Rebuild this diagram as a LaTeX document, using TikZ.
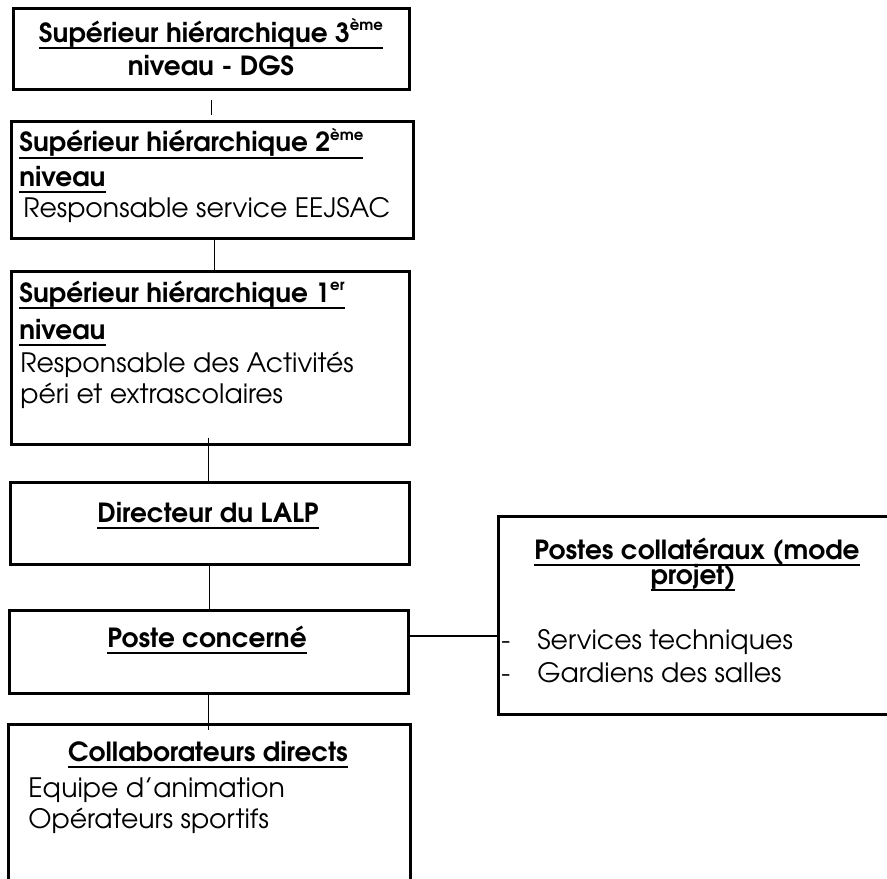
\documentclass[tikz,border=0pt]{standalone}
\usepackage{fontspec}
\setmainfont{texgyreadventor}[Extension=.otf,UprightFont=*-regular,BoldFont=*-bold]
\newcommand{\ulin}[1]{\setbox0\hbox{#1}\rlap{\rule[-0.27em]{\wd0}{0.09em}}\box0}
\newcommand{\sptxt}[1]{\raisebox{0.42em}{\fontsize{8.5}{8.5}\selectfont #1}}
\tikzset{
  box/.style={draw,line width=1.5pt,rectangle,anchor=north west,inner sep=0pt},
  txt/.style={inner sep=0pt,font=\fontsize{15.2}{18}\selectfont},
  ttl/.style={txt,font=\fontsize{15}{18}\selectfont\bfseries},
  link/.style={line width=0.8pt}
}
\begin{document}
\begin{tikzpicture}[x=0.02cm,y=-0.02cm]
      \useasboundingbox (0,0) rectangle (887,879);
      \draw
        (12,7) node[box,minimum width=7.92cm,minimum height=1.62cm] (dgs){}
        (10,120) node[box,minimum width=8.04cm,minimum height=2.34cm] (sup2){}
        (10,270) node[box,minimum width=7.96cm,minimum height=3.46cm] (sup1){}
        (9,481) node[box,minimum width=7.98cm,minimum height=1.64cm] (dir){}
        (8,609) node[box,minimum width=7.98cm,minimum height=1.66cm] (poste){}
        (497,515) node[box,minimum width=8.1cm,minimum height=3.96cm] (coll){}
        (7,723) node[box,minimum width=8.04cm,minimum height=3.6cm] (collab){};
      \draw
        (211,42) node[ttl,anchor=base] (dgs1){\ulin{Supérieur hiérarchique 3\sptxt{ème}}}
        (211,75) node[ttl,anchor=base] (dgs2){niveau - DGS}
        (19,152) node[ttl,anchor=base west] (sup21){\ulin{Supérieur hiérarchique 2\sptxt{ème}}}
        (19,186) node[ttl,anchor=base west] (sup22){\ulin{niveau}}
        (23,217) node[txt,anchor=base west] (sup23){Responsable service EEJSAC}
        (19,302) node[ttl,anchor=base west] (sup11){\ulin{Supérieur hiérarchique 1\sptxt{er}}}
        (19,339) node[ttl,anchor=base west] (sup12){\ulin{niveau}}
        (20,372) node[txt,anchor=base west] (sup13){Responsable des Activités}
        (20,403) node[txt,anchor=base west] (sup14){péri et extrascolaires}
        (208,522) node[ttl,anchor=base] (dir1){\ulin{Directeur du LALP}}
        (207,647) node[ttl,anchor=base] (poste1){\ulin{Poste concerné}}
        (697,559) node[ttl,anchor=base] (coll1){\ulin{Postes collatéraux (mode}}
        (693,584) node[ttl,anchor=base] (coll2){\ulin{projet)}}
        (501,649) node[txt,anchor=base west] (coll3){-}
        (537,649) node[txt,anchor=base west] (coll4){Services techniques}
        (501,682) node[txt,anchor=base west] (coll5){-}
        (537,682) node[txt,anchor=base west] (coll6){Gardiens des salles}
        (208,761) node[ttl,anchor=base] (collab1){\ulin{Collaborateurs directs}}
        (28,797) node[txt,anchor=base west] (collab2){Equipe d’animation}
        (28,828) node[txt,anchor=base west] (collab3){Opérateurs sportifs};
      \coordinate (side) at (408,636);
      \begin{scope}[link]
        \draw[shorten <=0.18cm,shorten >=0.1cm] (dgs.south) to (dgs.south |- sup2.north);
        \draw[shorten >=-0.06cm] ([xshift=0.04cm]sup2.south) to ([xshift=0.04cm]sup2.south |- sup1.north);
        \draw[shorten <=-0.16cm] ([xshift=-0.04cm]sup1.south) to ([xshift=-0.04cm]sup1.south |- dir.north);
        \draw (dir.south) to (dir.south |- poste.north);
        \draw (side) to (side -| coll.west);
        \draw[shorten >=-0.14cm] (poste.south) to (poste.south |- collab.north);
      \end{scope}
    \end{tikzpicture}
\end{document}
